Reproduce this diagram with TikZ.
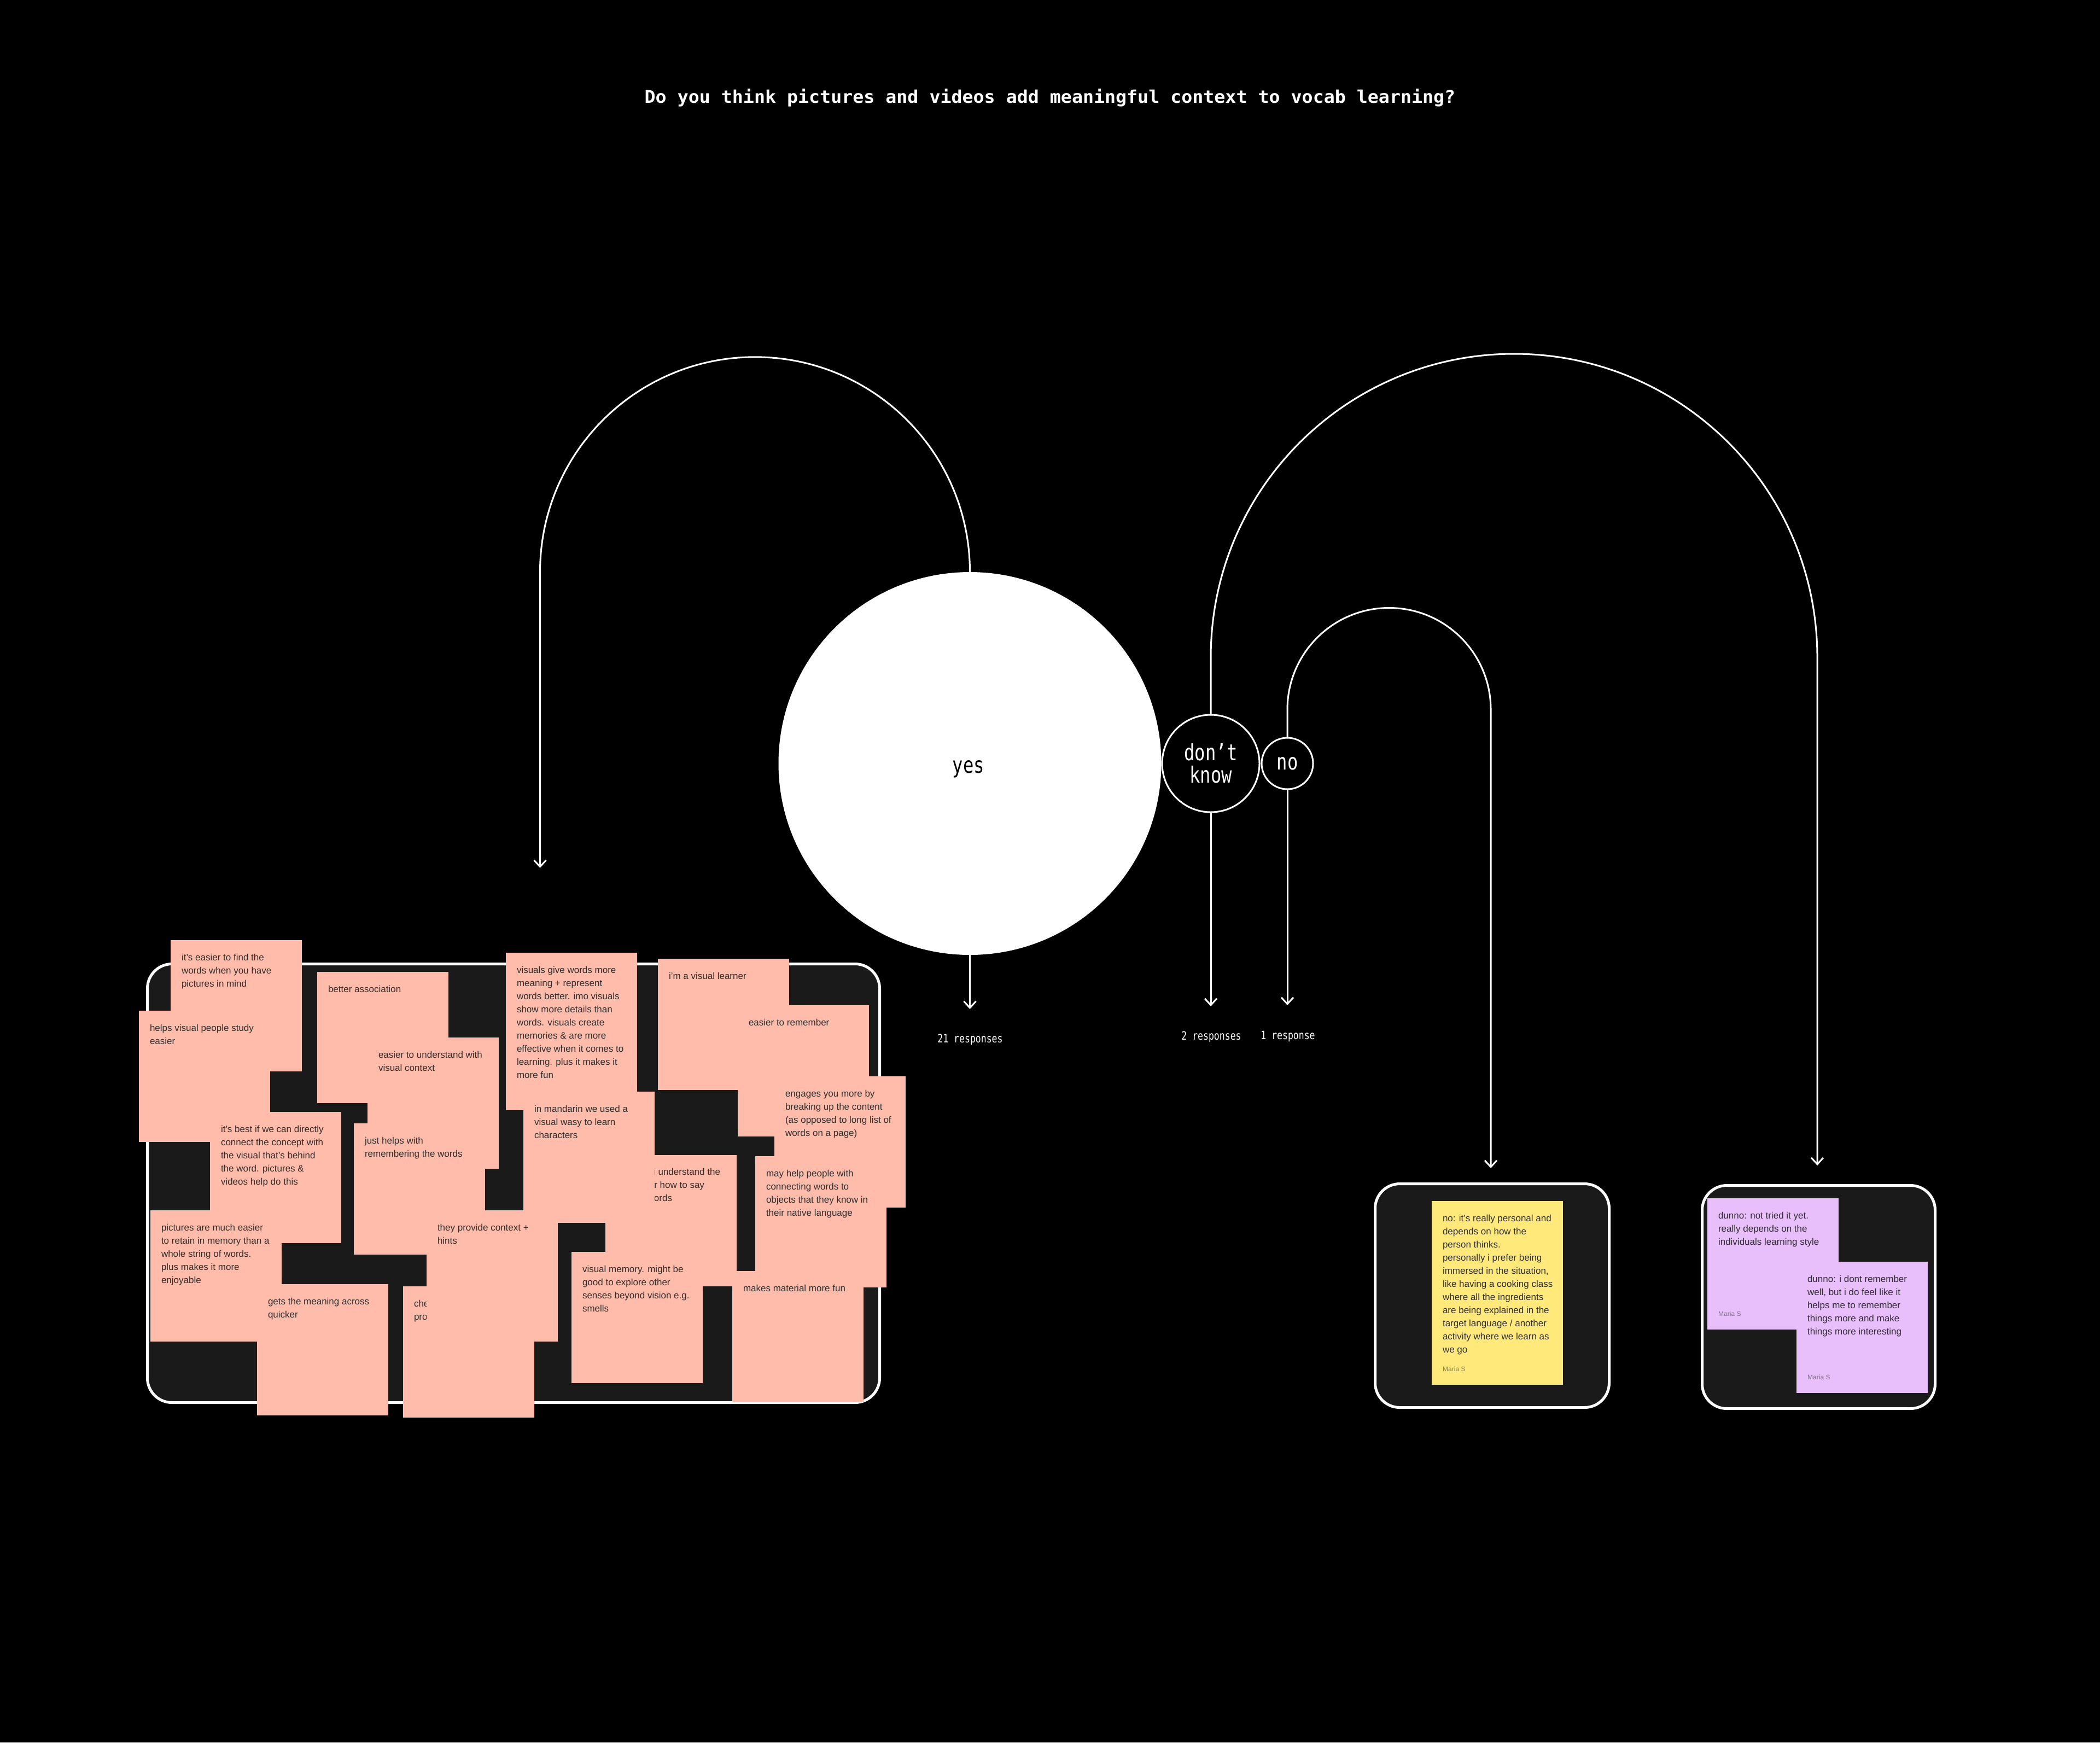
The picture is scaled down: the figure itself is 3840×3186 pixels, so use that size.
\documentclass[tikz,border=0pt]{standalone}
\usepackage{fontspec}
\usetikzlibrary{arrows.meta}
\newfontfamily\stkfont{Liberation Sans}
\newfontfamily\titlefont[FakeStretch=1.04]{DejaVu Sans Mono}
\newfontfamily\lblfont[FakeStretch=0.785]{DejaVu Sans Mono}
\definecolor{pinkc}{HTML}{FFBCAA}
\definecolor{yellowc}{HTML}{FFE97A}
\definecolor{purplec}{HTML}{E8BEFB}
\definecolor{boxc}{HTML}{1A1A1A}
\definecolor{inkc}{HTML}{2E2E2E}
\newcommand\stkstrut{\rule{0pt}{12pt}}
\begin{document}
\begin{tikzpicture}[x=1pt,y=-1pt,
  stk/.style={anchor=north west, minimum width=240pt, minimum height=240pt, inner sep=0pt, outer sep=0pt},
  pinkstk/.style={stk, fill=pinkc},
  stxt/.style={anchor=north west, inner sep=0pt, outer sep=0pt, align=left, text=inkc, font=\stkfont\fontsize{17}{24}\selectfont},
  frag/.style={anchor=base east, inner sep=0pt, outer sep=0pt, text=inkc, font=\stkfont\fontsize{17}{24}\selectfont},
  author/.style={anchor=base west, inner sep=0pt, text=inkc, text opacity=0.55, font=\stkfont\fontsize{12}{14}\selectfont},
  wrapbox/.style={anchor=north west, draw=white, line width=5pt, fill=boxc, rounded corners=45pt, inner sep=0pt},
  conn/.style={draw=white, line width=3pt},
  arr/.style={conn, -{Straight Barb[length=12pt,width=22pt]}},
  lbl/.style={text=white, font=\lblfont\fontsize{41}{41}\selectfont, align=center, inner sep=0pt},
  resp/.style={text=white, font=\lblfont\fontsize{21}{24}\selectfont, anchor=base, inner sep=0pt}
]
\fill[black] (0,0) rectangle (3840,3186);
\useasboundingbox (0,0) rectangle (3840,3186);

% title
\node[text=white, font=\titlefont\bfseries\fontsize{32}{36}\selectfont, anchor=base, inner sep=0pt] (title) at (1920,188) {Do you think pictures and videos add meaningful context to vocab learning?};

% coordinates for arrow ends
\coordinate (yesarrow) at (987.5,1587);
\coordinate (yesdown) at (1773.5,1845);
\coordinate (dkdown) at (2214,1840);
\coordinate (nodown) at (2354,1838);
\coordinate (dkarrow) at (3323,2131);
\coordinate (noarrow) at (2726,2136);

% circles
\node[circle, fill=white, minimum size=700pt, inner sep=0pt] (yes) at (1773.5,1396) {};
\node[text=black, font=\lblfont\fontsize{41}{41}\selectfont, anchor=base, inner sep=0pt] (yeslbl) at (1771,1413) {yes};
\node[circle, draw=white, line width=3pt, fill=black, minimum size=178pt, lbl] (dk) at (2214,1396) {don’t\\know};
\node[circle, draw=white, line width=3pt, fill=black, minimum size=94pt, lbl] (no) at (2354,1396) {no};

% connectors
\draw[arr] (yes.north) arc[start angle=0, end angle=180, radius=393pt] -- (yesarrow);
\draw[arr] (dk.north) -- ++(0,-104) arc[start angle=180, end angle=0, radius=554.5pt] -- (dkarrow);
\draw[arr] (no.north) -- ++(0,-50) arc[start angle=180, end angle=0, radius=186pt] -- (noarrow);
\draw[arr] (yes.south) -- (yesdown);
\draw[arr] (dk.south) -- (dkdown);
\draw[arr] (no.south) -- (nodown);

% response counts
\node[resp] (r21) at (1774,1906) {21 responses};
\node[resp] (r2) at (2215,1901) {2 responses};
\node[resp] (r1) at (2355,1900) {1 response};

% ---------------- yes box ----------------
\node[wrapbox, minimum width=1339pt, minimum height=802pt] (leftbox) at (267,1760) {};

\node[pinkstk] (s1) at (312,1719) {};
\node[stxt] (t1) at ([shift={(20,25)}]s1.north west) {\stkstrut it’s easier to find the\\words when you have\\pictures in mind};
\node[pinkstk] (s2) at (254,1848) {};
\node[stxt] (t2) at ([shift={(20,25)}]s2.north west) {\stkstrut helps visual people study\\easier};
\node[pinkstk] (s3) at (580,1777) {};
\node[stxt] (t3) at ([shift={(20,25)}]s3.north west) {\stkstrut better association};
\node[pinkstk] (s4) at (672,1897) {};
\node[stxt] (t4) at ([shift={(20,25)}]s4.north west) {\stkstrut easier to understand with\\visual context};
\node[pinkstk] (s5) at (384,2033) {};
\node[stxt] (t5) at ([shift={(20,25)}]s5.north west) {\stkstrut it’s best if we can directly\\connect the concept with\\the visual that’s behind\\the word. pictures \&\\videos help do this};
\node[pinkstk] (s6) at (647,2054) {};
\node[stxt] (t6) at ([shift={(20,25)}]s6.north west) {\stkstrut just helps with\\remembering the words};
\node[pinkstk, minimum height=288pt] (s7) at (925,1742) {};
\node[stxt] (t7) at ([shift={(20,25)}]s7.north west) {\stkstrut visuals give words more\\meaning + represent\\words better. imo visuals\\show more details than\\words. visuals create\\memories \& are more\\effective when it comes to\\learning. plus it makes it\\more fun};
\node[pinkstk] (s8) at (1203,1753) {};
\node[stxt] (t8) at ([shift={(20,25)}]s8.north west) {\stkstrut i’m a visual learner};
\node[pinkstk] (s9) at (1349,1838) {};
\node[stxt] (t9) at ([shift={(20,25)}]s9.north west) {\stkstrut easier to remember};
\node[pinkstk] (s10) at (1416,1968) {};
\node[stxt] (t10) at ([shift={(20,25)}]s10.north west) {\stkstrut engages you more by\\breaking up the content\\(as opposed to long list of\\words on a page)};
\node[pinkstk] (s12) at (1107,2112) {};
\node[frag] (t12a) at (1317,2148) {you understand the};
\node[frag] (t12b) at (1288,2172) {or how to say};
\node[frag] (t12c) at (1229,2196) {words};
\node[pinkstk] (s13) at (1381,2114) {};
\node[stxt] (t13) at ([shift={(20,25)}]s13.north west) {\stkstrut may help people with\\connecting words to\\objects that they know in\\their native language};
\node[pinkstk] (s14) at (1339,2324) {};
\node[stxt] (t14) at ([shift={(20,25)}]s14.north west) {\stkstrut makes material more fun};
\node[pinkstk] (s15) at (1045,2289) {};
\node[stxt] (t15) at ([shift={(20,25)}]s15.north west) {\stkstrut visual memory. might be\\good to explore other\\senses beyond vision e.g.\\smells};
\node[pinkstk] (s11) at (957,1996) {};
\node[stxt] (t11) at ([shift={(20,25)}]s11.north west) {\stkstrut in mandarin we used a\\visual wasy to learn\\characters};
\node[pinkstk] (s19) at (737,2352) {};
\node[stxt] (t19) at ([shift={(20,25)}]s19.north west) {\stkstrut che\\pro};
\node[pinkstk] (s18) at (275,2213) {};
\node[stxt] (t18) at ([shift={(20,25)}]s18.north west) {\stkstrut pictures are much easier\\to retain in memory than a\\whole string of words.\\plus makes it more\\enjoyable};
\node[pinkstk] (s17) at (470,2348) {};
\node[stxt] (t17) at ([shift={(20,25)}]s17.north west) {\stkstrut gets the meaning across\\quicker};
\node[pinkstk] (s16) at (780,2213) {};
\node[stxt] (t16) at ([shift={(20,25)}]s16.north west) {\stkstrut they provide context +\\hints};

% ---------------- no box ----------------
\node[wrapbox, minimum width=428pt, minimum height=409pt] (nobox) at (2512,2162) {};
\node[stk, fill=yellowc, minimum height=336pt] (y1) at (2618,2196) {};
\node[stxt] (ty1) at ([shift={(20,25)}]y1.north west) {\stkstrut no: it’s really personal and\\depends on how the\\person thinks.\\personally i prefer being\\immersed in the situation,\\like having a cooking class\\where all the ingredients\\are being explained in the\\target language / another\\activity where we learn as\\we go};
\node[author] (ay1) at ([shift={(20,-25)}]y1.south west) {Maria S};

% ---------------- don't know box ----------------
\node[wrapbox, minimum width=426pt, minimum height=408pt] (dkbox) at (3110,2165) {};
\node[stk, fill=purplec] (p1) at (3122,2191) {};
\node[stxt] (tp1) at ([shift={(20,25)}]p1.north west) {\stkstrut dunno: not tried it yet.\\really depends on the\\individuals learning style};
\node[author] (ap1) at ([shift={(20,-25)}]p1.south west) {Maria S};
\node[stk, fill=purplec] (p2) at (3285,2307) {};
\node[stxt] (tp2) at ([shift={(20,25)}]p2.north west) {\stkstrut dunno: i dont remember\\well, but i do feel like it\\helps me to remember\\things more and make\\things more interesting};
\node[author] (ap2) at ([shift={(20,-25)}]p2.south west) {Maria S};
\end{tikzpicture}
\end{document}
